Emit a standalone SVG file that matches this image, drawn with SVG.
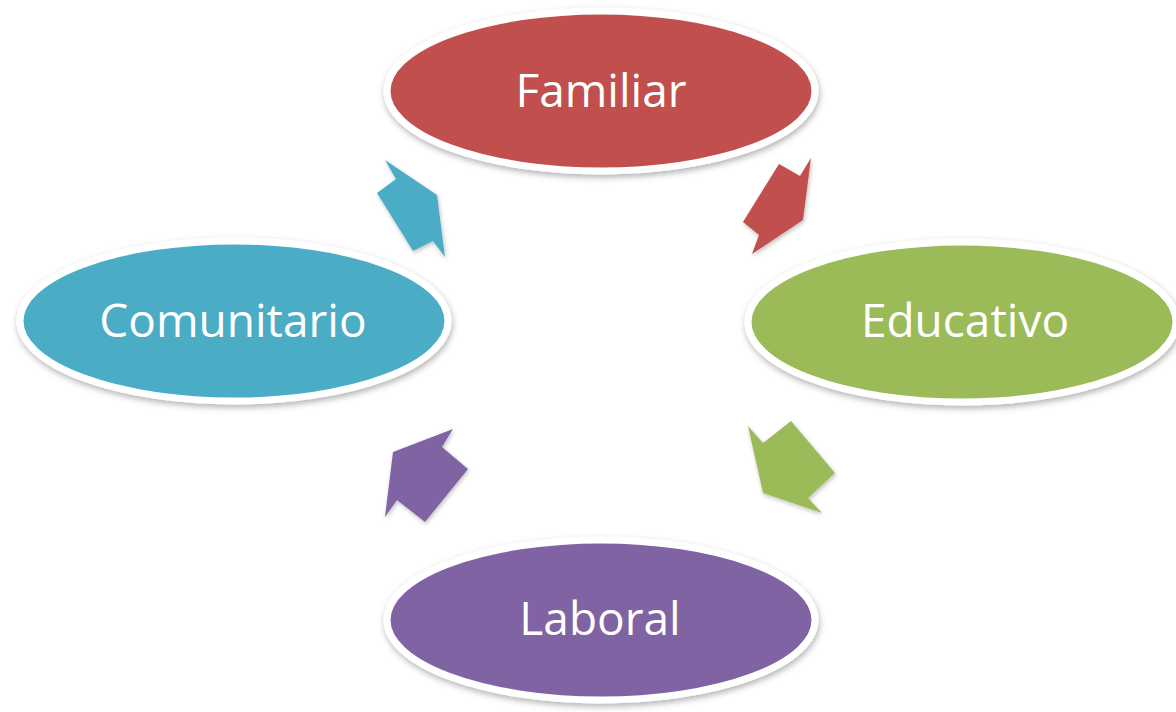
<svg xmlns="http://www.w3.org/2000/svg" width="1176" height="712" viewBox="0 0 1176 712">
<defs>
<filter id="sh" x="-10%" y="-10%" width="125%" height="130%">
<feDropShadow dx="1" dy="3" stdDeviation="3" flood-color="#000" flood-opacity="0.3"/>
</filter>
<filter id="ash" x="-20%" y="-20%" width="150%" height="150%">
<feDropShadow dx="1" dy="2" stdDeviation="2" flood-color="#000" flood-opacity="0.25"/>
</filter>
</defs>
<style>
.node ellipse{stroke:#fff;stroke-width:7;filter:url(#sh);}
.node text{font-family:"Open Sans","Noto Sans",sans-serif;font-size:46px;fill:#fff;text-anchor:middle;}
.arr{filter:url(#ash);}
</style>
<rect width="1176" height="712" fill="#fff"/>
<g id="connectors">
<polygon class="arr" fill="#C0504D" points="779,164 800,176 811,158 803,220 752,254 759,235 743,222"/>
<polygon class="arr" fill="#9BBB59" points="748,426 763,443 791,421 835,473 808,498 822,513 763,493"/>
<polygon class="arr" fill="#8064A2" points="453,429 442,447 468,469 425,522 397,500 385,517 393,452"/>
<polygon class="arr" fill="#4BACC6" points="385,160 437,195 445,257 433,241 413,251 377,193 396,179"/>
</g>
<g id="familiar" class="node">
<ellipse cx="601" cy="91" rx="214" ry="80" fill="#C0504D"/>
<text x="601" y="107">Familiar</text>
</g>
<g id="educativo" class="node">
<ellipse cx="962" cy="322" rx="214" ry="80" fill="#9BBB59"/>
<text x="965" y="337">Educativo</text>
</g>
<g id="laboral" class="node">
<ellipse cx="601" cy="620" rx="214" ry="80" fill="#8064A2"/>
<text x="600" y="635">Laboral</text>
</g>
<g id="comunitario" class="node">
<ellipse cx="234" cy="321" rx="214" ry="80" fill="#4BACC6"/>
<text x="233" y="337">Comunitario</text>
</g>
</svg>
